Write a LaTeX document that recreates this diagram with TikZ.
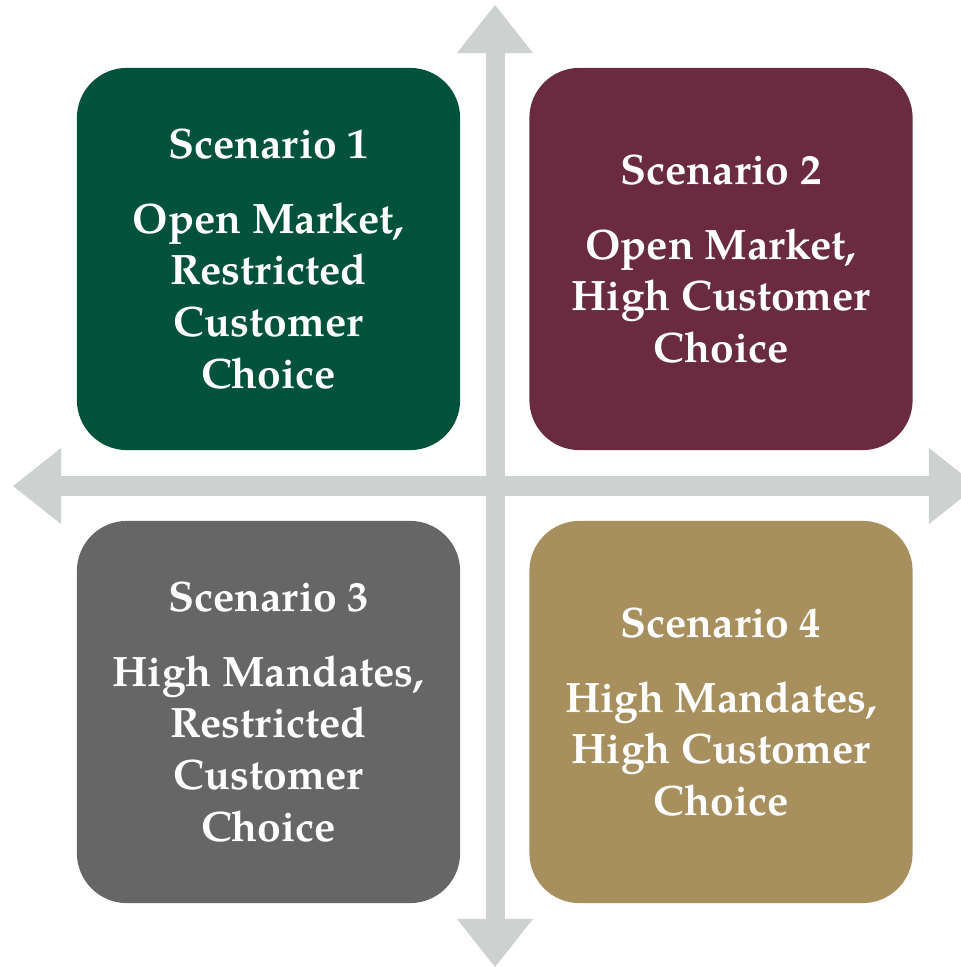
\documentclass[tikz,border=0pt]{standalone}
\usepackage{fontspec}
\setmainfont{TeX Gyre Pagella}
\usetikzlibrary{arrows.meta}

\definecolor{scgreen}{HTML}{00533A}
\definecolor{scmaroon}{HTML}{6A2B40}
\definecolor{scgray}{HTML}{666666}
\definecolor{scgold}{HTML}{A8905E}
\definecolor{axisgray}{HTML}{CDD1CF}

\tikzset{
  scenario/.style={rounded corners=0.5cm,minimum width=3.83cm,minimum height=3.82cm,
    inner sep=0pt,align=center,text=white,font=\bfseries\fontsize{12.1}{14.7}\selectfont},
  axis/.style={line width=0.19cm,color=axisgray,
    {Triangle[width=0.76cm,length=0.48cm,line width=0pt]}-{Triangle[width=0.76cm,length=0.48cm,line width=0pt]}}
}

\begin{document}
\begin{tikzpicture}[x=0.01cm,y=-0.01cm]
\clip (0,0) rectangle (961,967);
% axes
\coordinate (west) at (13,486);
\coordinate (east) at (977,486);
\coordinate (north) at (495,5);
\coordinate (south) at (495,967);
\draw [axis] (west) -- (east);
\draw [axis] (north) -- (south);
% the four scenarios
\node [scenario,fill=scgreen] (sc1) at (268.5,259) {Scenario 1\\[6.5pt]Open Market,\\Restricted\\Customer\\Choice};
\node [scenario,fill=scmaroon] (sc2) at (721,259) {Scenario 2\\[6.5pt]Open Market,\\High Customer\\Choice};
\node [scenario,fill=scgray] (sc3) at (268.5,712) {Scenario 3\\[6.5pt]High Mandates,\\Restricted\\Customer\\Choice};
\node [scenario,fill=scgold] (sc4) at (721,712) {Scenario 4\\[6.5pt]High Mandates,\\High Customer\\Choice};
\end{tikzpicture}
\end{document}
